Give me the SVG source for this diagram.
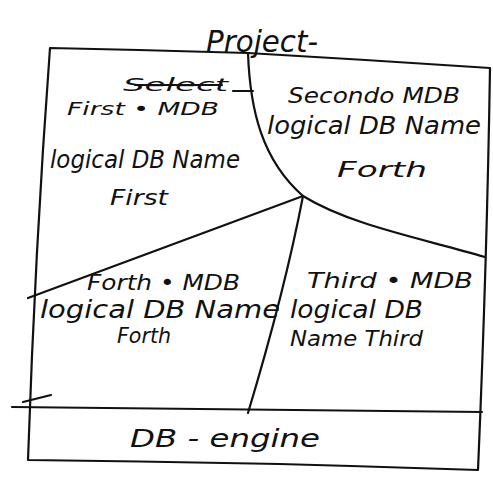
<svg xmlns="http://www.w3.org/2000/svg" width="493" height="491" viewBox="0 0 493 491">
  <style>
    .ink { fill: none; stroke: #111; stroke-width: 2.2; stroke-linecap: round; stroke-linejoin: round; }
    .hand { font-family: "DejaVu Sans", "Liberation Sans", sans-serif; fill: #111; font-style: oblique; }
    .big { font-size: 24px; }
    .mid { font-size: 22px; }
    .small { font-size: 18px; }
  </style>
  <rect width="493" height="491" fill="#fff"/>

  <!-- title -->
  <g id="title">
    <text class="hand" x="206" y="52" font-size="30" textLength="112" lengthAdjust="spacingAndGlyphs">Project-</text>
  </g>

  <!-- frame and dividing strokes -->
  <g id="connectors">
    <path class="ink" d="M50,48 Q150,50 248,53 Q370,60 490,68 Q487,260 478,470 Q250,462 28,460 Q35,250 50,48 Z"/>
    <!-- top split curving down to the hub and out to the right edge -->
    <path class="ink" d="M248,53 C250,110 262,160 303,196 C350,225 420,238 485,257"/>
    <!-- hub to left edge -->
    <path class="ink" d="M303,196 Q170,245 28,298"/>
    <!-- hub down to engine layer -->
    <path class="ink" d="M303,196 Q285,290 248,413"/>
    <!-- engine layer top -->
    <path class="ink" d="M12,407 Q250,409 482,412"/>
    <path class="ink" d="M23,402 L51,395"/>
    <path class="ink" d="M233,91 L253,91"/>
  </g>

  <g id="first">
    <text class="hand small" x="123" y="91" textLength="105" lengthAdjust="spacingAndGlyphs">Select</text>
    <line class="ink" x1="135" y1="85" x2="222" y2="85"/>
    <text class="hand small" x="67" y="115" textLength="152" lengthAdjust="spacingAndGlyphs">First • MDB</text>
    <text class="hand big" x="50" y="168" textLength="190" lengthAdjust="spacingAndGlyphs">logical DB Name</text>
    <text class="hand mid" x="110" y="205" textLength="58" lengthAdjust="spacingAndGlyphs">First</text>
  </g>

  <g id="second">
    <text class="hand mid" x="288" y="103" textLength="172" lengthAdjust="spacingAndGlyphs">Secondo MDB</text>
    <text class="hand big" x="267" y="134" textLength="214" lengthAdjust="spacingAndGlyphs">logical DB Name</text>
    <text class="hand mid" x="337" y="177" textLength="90" lengthAdjust="spacingAndGlyphs">Forth</text>
  </g>

  <g id="fourth">
    <text class="hand mid" x="87" y="290" textLength="153" lengthAdjust="spacingAndGlyphs">Forth • MDB</text>
    <text class="hand big" x="40" y="318" textLength="240" lengthAdjust="spacingAndGlyphs">logical DB Name</text>
    <text class="hand mid" x="117" y="343" textLength="54" lengthAdjust="spacingAndGlyphs">Forth</text>
  </g>

  <g id="third">
    <text class="hand mid" x="307" y="288" textLength="166" lengthAdjust="spacingAndGlyphs">Third • MDB</text>
    <text class="hand big" x="290" y="318" textLength="133" lengthAdjust="spacingAndGlyphs">logical DB</text>
    <text class="hand mid" x="290" y="346" textLength="133" lengthAdjust="spacingAndGlyphs">Name Third</text>
  </g>

  <g id="engine">
    <text class="hand big" x="130" y="447" textLength="190" lengthAdjust="spacingAndGlyphs">DB - engine</text>
  </g>
</svg>
